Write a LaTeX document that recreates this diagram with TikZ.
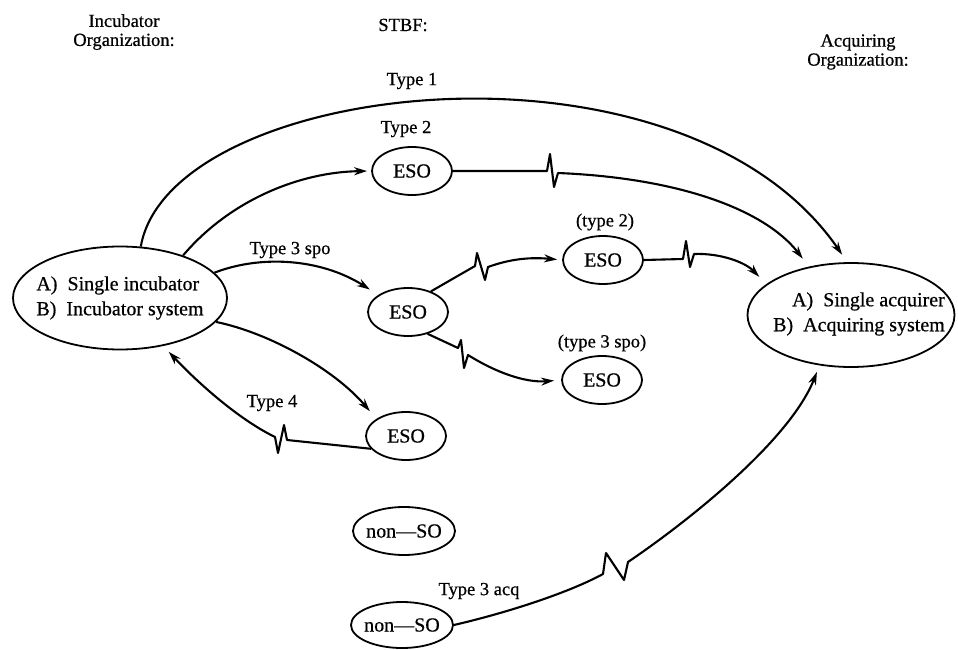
\documentclass[tikz,border=0pt]{standalone}
\usepackage{fontspec}
\setmainfont{Liberation Serif}[FakeBold=0.6]
\usetikzlibrary{arrows.meta,shapes.geometric}
\begin{document}
\begin{tikzpicture}[x=1pt,y=-1pt,
  ell/.style={draw,ellipse,line width=1.8pt,inner sep=0pt},
  lbl/.style={font=\fontsize{18.5}{19}\selectfont,inner sep=0pt},
  txt/.style={font=\fontsize{20}{25}\selectfont,inner sep=0pt},
  conn/.style={line width=2.1pt,line join=round},
  arr/.style={conn,-{Stealth[length=13pt,width=8pt]}},
]
\useasboundingbox (0,0) rectangle (958,650);

% headers
\node[lbl,align=center] (hinc) at (124,32) {Incubator\\Organization:};
\node[lbl] (hstbf) at (403,25) {STBF:};
\node[lbl,align=center] (hacq) at (858,52) {Acquiring\\Organization:};

% main ellipses
\node[ell,minimum width=214pt,minimum height=103pt] (inc) at (120,298) {};
\node[txt,align=left] (inctext) at (120,298) {A)\ \ Single incubator\\B)\ \ Incubator system};
\node[ell,minimum width=207pt,minimum height=104pt] (acq) at (851,315) {};
\node[txt,align=right] (acqtext) at (859,314) {A)\ \ Single acquirer\\B)\ \ Acquiring system};

% small ellipses
\node[ell,txt,minimum width=80pt,minimum height=48pt] (eso1) at (412,171) {ESO};
\node[ell,txt,minimum width=80pt,minimum height=48pt] (eso2) at (408,312) {ESO};
\node[ell,txt,minimum width=80pt,minimum height=48pt] (eso3) at (406,436) {ESO};
\node[ell,txt,minimum width=80pt,minimum height=48pt] (eso4) at (603,260) {ESO};
\node[ell,txt,minimum width=80pt,minimum height=48pt] (eso5) at (602,380) {ESO};
\node[ell,minimum width=102pt,minimum height=48pt] (nonso1) at (404,531) {};
\node[txt] (nonso1text) at (404,531) {non—SO};
\node[ell,minimum width=102pt,minimum height=46pt] (nonso2) at (402,625) {};
\node[txt] (nonso2text) at (402,625) {non—SO};

% labels
\node[lbl] (t1) at (412,81) {Type 1};
\node[lbl] (t2) at (406,129) {Type 2};
\node[lbl] (t3) at (290,250) {Type 3 spo};
\node[lbl] (t2b) at (605,222) {(type 2)};
\node[lbl] (t3b) at (602,343) {(type 3 spo)};
\node[lbl] (t4) at (272,403) {Type 4};
\node[lbl] (t3a) at (479,591) {Type 3 acq};

% connectors
\draw[arr,shorten >=9pt] (inc.68) .. controls (170,80) and (680,20) .. (acq.94);
\draw[arr,shorten >=4pt] (inc.34) .. controls (230,200) and (300,172) .. (eso1.west);
\draw[arr,shorten >=10pt] (eso1.east) -- (547,171) -- (550,154) -- (554,187) -- (558,173)
   .. controls (680,178) and (765,210) .. (acq.131);
\draw[arr,shorten >=10pt] (inc.15) .. controls (260,255) and (320,258) .. (eso2.150);
\draw[arr,shorten >=10pt] (inc.-14) .. controls (270,333) and (335,370) .. (eso3.150);
\draw[arr,shorten >=8pt] (eso3.200) -- (287,440) -- (284,425) -- (278,453) -- (275,437)
   .. controls (240,420) and (200,385) .. (inc.-48);
\draw[arr,shorten >=5pt] (eso2.42) -- (475,266) -- (477,253) -- (485,280) -- (488,267)
   .. controls (510,259) and (530,257) .. (eso4.west);
\draw[arr,shorten >=7pt] (eso2.-48) -- (458,348) -- (461,340) -- (464,368) -- (468,355)
   .. controls (495,372) and (525,383) .. (eso5.west);
\draw[arr,shorten >=10pt] (eso4.east) -- (683,259) -- (686,241) -- (690,267) -- (694,254)
   .. controls (720,253) and (745,262) .. (acq.160);
\draw[arr,shorten >=7pt] (nonso2.east) .. controls (510,612) and (570,592) .. (603,574)
   -- (606,553) -- (624,580) -- (628,562) .. controls (690,520) and (790,440) .. (acq.238);
\end{tikzpicture}
\end{document}
